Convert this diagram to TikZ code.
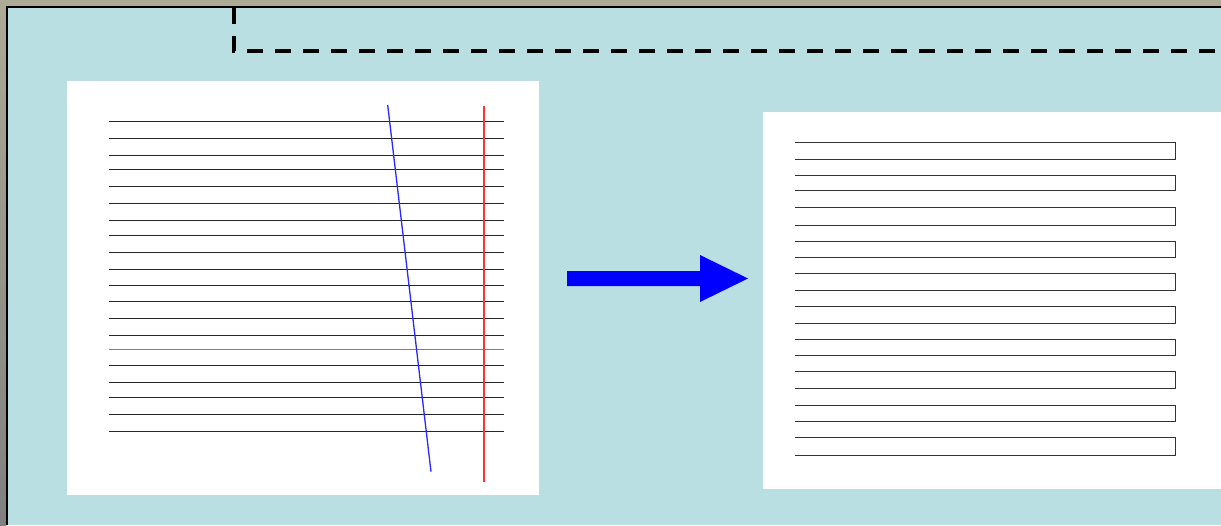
\documentclass[tikz,border=0pt]{standalone}
\begin{document}
\begin{tikzpicture}[x=1pt,y=-1pt,
  rule/.style={draw=black!85,line width=1.4pt},
  slot/.style={draw=black!80,line width=1.4pt}]
\definecolor{khaki}{HTML}{ADAA96}
\definecolor{pale}{HTML}{BADFE2}
\definecolor{redline}{RGB}{255,50,50}
\definecolor{blueline}{RGB}{40,40,255}
\useasboundingbox (0,0) rectangle (1221,525);
% outer frame
\fill[khaki] (0,0) rectangle (1221,525);
\shade[top color=khaki,bottom color=black!50] (0,0) rectangle (6,525);
\fill[pale] (7,7) rectangle (1221,525);
\draw[black,line width=2pt] (7,525) -- (7,7) -- (1221,7);
% dashed guide
\draw[black,line width=3.5pt,dash pattern=on 16pt off 12pt] (234,8) -- (234,51) -- (1221,51);
% left panel
\fill[white] (67,81) rectangle (539,495);
\foreach \y in {121.5,138.5,155.5,169.5,186.5,203.5,220.5,235.5,252.5,269.5,285.5,301.5,318.5,335.5,365.5,382.5,397.5,414.5,431.5}
  \draw[rule] (109,\y) -- (504,\y);
\draw[black!50,line width=0.8pt] (109,349) -- (504,349);
\draw[blueline,line width=1.3pt] (387.7,105) -- (431,471.7);
\fill[redline] (483,106) rectangle (485,481.7);
% arrow
\fill[blue] (567,271) -- (700,271) -- (700,255) -- (748,278.5) -- (700,302) -- (700,286) -- (567,286) -- cycle;
% right panel
\fill[white] (763,112) rectangle (1221,489);
\foreach \t/\b in {142.5/159.5,175.5/190.5,207.5/225.5,241.5/257.5,273.5/290.5,306.5/323.5,339.5/355.5,371.5/388.5,405.5/421.5,437.5/455.5}
  \draw[slot] (795.3,\t) -- (1175.7,\t) -- (1175.7,\b) -- (795.3,\b);
\end{tikzpicture}
\end{document}
